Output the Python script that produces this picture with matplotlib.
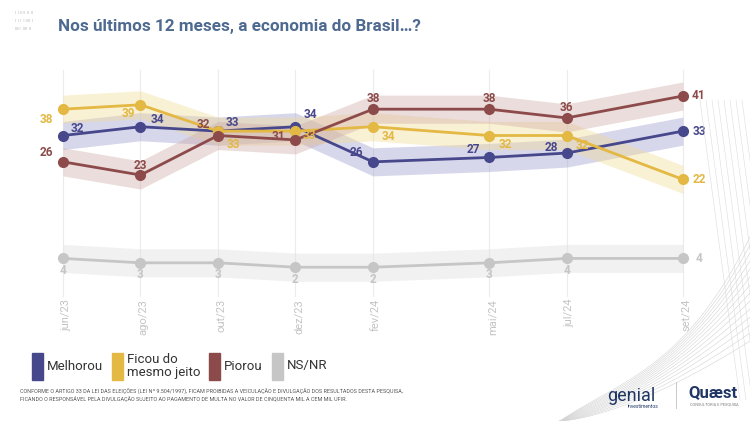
import matplotlib.pyplot as plt
import numpy as np

# survey waves and their month index (spacing in the original is by month)
meses = ["jun/23", "ago/23", "out/23", "dez/23", "fev/24", "mai/24", "jul/24", "set/24"]
pos = [0, 2, 4, 6, 8, 11, 13, 16]

melhorou = [32, 34, 33, 34, 26, 27, 28, 33]
ficou = [38, 39, 33, 33, 34, 32, 32, 22]
piorou = [26, 23, 32, 31, 38, 38, 36, 41]
nsnr = [4, 3, 3, 2, 2, 3, 4, 4]

nomes = ["Melhorou", "Ficou do\nmesmo jeito", "Piorou", "NS/NR"]
cores = ["#47478c", "#e3b843", "#8c4b4a", "#c6c6c6"]
bandas = ["#9d9dd0", "#f2dc94", "#cfaaa6", "#dedede"]

# label offsets in pixels (dx, dy) for each point
off_mel = [(14, 7), (17, 7), (14, 9), (15, 12), (-17, 9), (-16, 8), (-15, 6), (16, 0)]
off_fic = [(-17, -10), (-12, -9), (15, -13), (14, -4), (15, -10), (16, -9), (16, -10), (16, 0)]
off_pio = [(-17, 9), (0, 10), (-15, 11), (-17, 3), (0, 11), (0, 11), (0, 10), (16, 0)]
off_ns = [(0, -12), (0, -12), (0, -12), (0, -12), (0, -12), (0, -12), (0, -12), (16, 0)]

fig = plt.figure(figsize=(7.5, 4.21), dpi=100)
fig.patch.set_facecolor("white")
plt.rcParams['font.family'] = ['Roboto', 'DejaVu Sans']

# axes placed so the data map onto the reference pixels
ax = fig.add_axes([40 / 750, 1 - 340 / 421, 670 / 750, 280 / 421])
ax.set_xlim(-0.594, 16.70)
ax.set_ylim(-14.58, 49.2)
ax.axis("off")

for p, m in zip(pos, meses):
    ax.plot([p, p], [-4.6, 47], color="#ececec", lw=0.8, zorder=0)
    ax.text(p + 0.08, -5.2, m, rotation=90, ha="center", va="top",
            fontsize=8, color="#c4c4c4")

series = [melhorou, ficou, piorou, nsnr]
offs = [off_mel, off_fic, off_pio, off_ns]
for serie, banda in zip(series, bandas):
    v = np.array(serie)
    ax.fill_between(pos, v - 3.2, v + 3.2, color=banda, alpha=0.4, lw=0, zorder=1)
for serie, cor, off in zip(series, cores, offs):
    ax.plot(pos, serie, color=cor, lw=2, marker="o", ms=7, zorder=3)
    for p, val, (dx, dy) in zip(pos, serie, off):
        ax.annotate(str(val), (p, val), xytext=(dx, dy), textcoords="offset pixels",
                    ha="center", va="center", fontsize=8.5, fontweight="bold",
                    color=cor, zorder=4)

# title
fig.text(58 / 750, 1 - 27 / 421, "Nos últimos 12 meses, a economia do Brasil…?",
         fontsize=12.3, fontweight="bold", color="#4e6a90", va="center")

# small logo text top-left
for i, w in enumerate(["I  I IIII  II  II", "I  I I  I IIII  I", "IIIII  IIII  II"]):
    fig.text(15 / 750, 1 - (13 + i * 8) / 421, w, fontsize=3, color="#b5b5b5", va="center")

# legend
lx = [32, 112, 209, 272]
for x, nome, cor in zip(lx, nomes, cores):
    fig.patches.append(plt.Rectangle((x / 750, 1 - 380 / 421), 11 / 750, 27 / 421,
                                     transform=fig.transFigure, color=cor))
    fig.text((x + 15) / 750, 1 - 366 / 421, nome, fontsize=9.5, color="#333333",
             va="center", linespacing=1.0)

fig.text(20 / 750, 1 - 392 / 421,
         "CONFORME O ARTIGO 33 DA LEI DAS ELEIÇÕES (LEI Nº 9.504/1997), FICAM PROIBIDAS A VEICULAÇÃO E DIVULGAÇÃO DOS RESULTADOS DESTA PESQUISA,",
         fontsize=3.9, color="#555555", va="center")
fig.text(20 / 750, 1 - 399 / 421,
         "FICANDO O RESPONSÁVEL PELA DIVULGAÇÃO SUJEITO AO PAGAMENTO DE MULTA NO VALOR DE CINQUENTA MIL A CEM MIL UFIR.",
         fontsize=3.9, color="#555555", va="center")

# decorative wire lines bottom right
t = np.linspace(0, 1, 60)
for k in range(14):
    xs = 560 + 190 * t
    ys = 421 - (80 + 8 * k) * t ** (1.5 + 0.1 * k) - 10 * k * (1 - t) * t
    fig.lines.append(plt.Line2D(xs / 750, 1 - ys / 421, transform=fig.transFigure,
                                color="#d4d4d4", lw=0.4))
for k in range(8):
    xs = 700 + 6 * k + 40 * t
    ys = 100 + 300 * t
    fig.lines.append(plt.Line2D(xs / 750, 1 - ys / 421, transform=fig.transFigure,
                                color="#dcdcdc", lw=0.4))

# logos
fig.text(607 / 750, 1 - 396 / 421, "genial", fontsize=13, color="#1f3563", va="center")
fig.text(628 / 750, 1 - 407 / 421, "investimentos", fontsize=3.5, color="#1f3563", va="center")
fig.lines.append(plt.Line2D([676 / 750, 676 / 750], [1 - 382 / 421, 1 - 408 / 421],
                            transform=fig.transFigure, color="#c0c0c0", lw=0.6))
fig.text(688 / 750, 1 - 393 / 421, "Quæst", fontsize=12, fontweight="bold",
         color="#1f3563", va="center")
fig.text(690 / 750, 1 - 405 / 421, "CONSULTORIA E PESQUISA", fontsize=2.8,
         color="#777777", va="center")

fig.savefig("out.png", dpi=100, facecolor="white")
